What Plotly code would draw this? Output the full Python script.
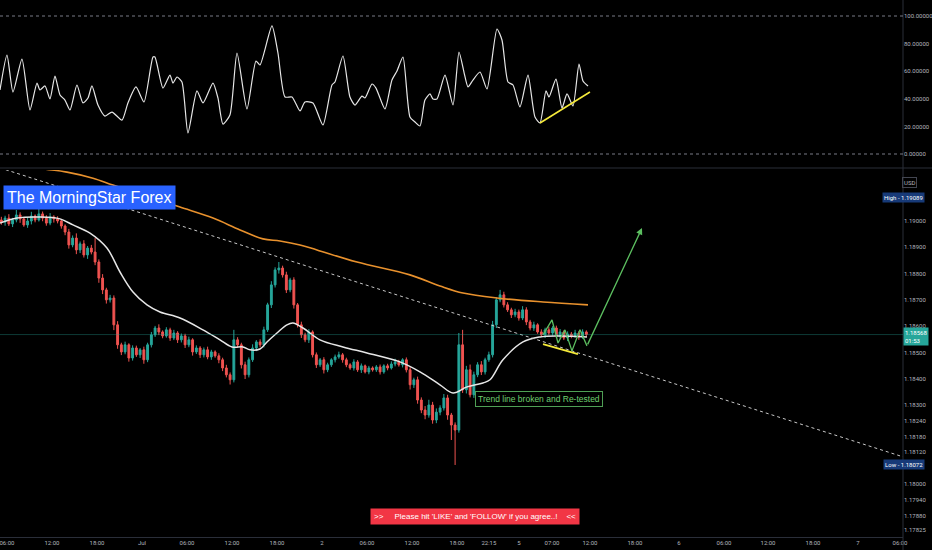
import plotly.graph_objects as go

# EURUSD 30-min bars, prices in points (0.00001) above 1.18000.
# Time is in trading hours from 1 Jul 00:00 (weekend gap removed).
BAR_START, BAR_STEP = -18.75, 0.5
FIRST_OPEN = 1004
CLOSE = [
    996, 1011, 989, 1004, 1023, 1008, 985, 1000, 1019, 1004, 1027, 1011, 992, 1015, 1008, 1000,
    981, 958, 909, 935, 890, 913, 871, 897, 882, 844, 783, 738, 700, 707, 605, 529,
    502, 529, 479, 517, 491, 510, 472, 529, 567, 593, 578,
    563, 586, 555, 574, 548, 563, 529, 548, 502,
    517, 491, 510, 483, 502, 487, 472, 441, 415, 396, 548, 529, 453, 415,
    472, 517, 540, 529, 586, 681, 757, 814, 821, 795, 738, 776, 681, 605, 567,
    548, 578, 491, 453, 472, 434, 453, 472, 483, 491, 472,
    453, 441, 464, 434, 449, 426, 441, 434, 445, 426, 449, 441, 456,
    464, 453, 472, 434, 377, 396, 319, 281, 262, 300, 243, 273, 289, 327, 262,
    224, 205, 529, 358, 434, 339, 415, 453, 426, 472, 491, 605, 700, 719, 681,
    662, 643, 654, 631, 662, 616, 593, 605, 578,
    567, 586, 574, 593, 563, 578, 555, 570, 563, 574, 559, 578, 568,
]
UP_WICK = [
    12, 9, 15, 8, 19, 10, 7, 14, 16, 6, 62, 9, 11, 15, 7, 10,
    8, 6, 12, 10, 18, 9, 14, 8, 12, 53, 10, 15, 8, 12, 10, 14,
    8, 12, 6, 10, 9, 7, 12, 8, 11, 8, 14,
    6, 10, 8, 12, 7, 9, 8, 12, 6,
    10, 7, 9, 12, 8, 6, 10, 8, 12, 9, 38, 10, 8, 12,
    9, 14, 7, 10, 12, 8, 14, 10, 23, 9, 12, 8, 10, 7, 12,
    8, 11, 6, 9, 7, 10, 8, 6, 9, 12, 7,
    8, 6, 10, 7, 9, 5, 8, 6, 7, 9, 6, 8, 10,
    12, 8, 6, 9, 10, 8, 12, 10, 15, 20, 12, 14, 10, 15, 12,
    8, 10, 45, 57, 15, 20, 12, 10, 14, 8, 12, 15, 10, 19, 12,
    10, 8, 12, 9, 14, 10, 8, 12, 6,
    10, 8, 12, 7, 9, 11, 6, 10, 8, 12, 7, 10, 6,
]
DN_WICK = [
    10, 14, 8, 12, 9, 15, 7, 11, 13, 9, 6, 12, 10, 8, 14, 9,
    10, 12, 14, 9, 16, 12, 10, 15, 9, 12, 18, 16, 14, 10, 20, 15,
    12, 9, 14, 10, 8, 12, 15, 9, 10, 8, 12,
    9, 7, 11, 8, 12, 10, 12, 9, 14,
    8, 12, 10, 9, 11, 7, 13, 12, 10, 18, 10, 12, 14, 16,
    10, 8, 12, 9, 10, 8, 12, 10, 14, 10, 12, 9, 14, 10, 12,
    9, 12, 10, 12, 8, 14, 9, 8, 10, 7, 11,
    9, 7, 10, 8, 12, 6, 9, 7, 8, 10, 7, 9, 6,
    9, 7, 10, 10, 18, 12, 14, 12, 16, 10, 14, 12, 12, 10, 18,
    57, 133, 10, 12, 14, 10, 12, 9, 12, 10, 8, 10, 12, 9, 10,
    8, 12, 9, 10, 8, 12, 9, 11, 7,
    8, 12, 9, 10, 7, 10, 8, 12, 9, 8, 11, 7, 10,
]

# moving averages (hours, points)
MA_FAST_T = [-18.93, -16.67, -13.6, -10.93, -9.2, -6.93, -4.67, -2.93, -1.2, 0.67, 2.4, 5.07,
             8.13, 10.4, 12.0, 13.47, 14.4, 15.73, 16.67, 18.0, 19.33, 20.13, 21.47, 23.73,
             26.8, 30.0, 34.4, 37.07, 39.73, 41.47, 43.33, 45.47, 46.4, 48.13, 50.8, 53.07,
             55.33, 59.33]
MA_FAST_P = [992, 1011, 1015, 1008, 985, 954, 897, 806, 730, 681, 654, 631,
             586, 548, 521, 521, 510, 513, 540, 574, 605, 612, 593, 548,
             521, 498, 464, 426, 377, 346, 369, 384, 396, 472, 540, 559,
             563, 559]
MA_SLOW_T = [-18.93, -14.0, -10.0, -6.53, -3.87, 1.07, 5.07, 9.47, 13.07, 16.13, 18.4, 21.07,
             23.33, 28.67, 35.73, 39.73, 42.8, 47.33, 53.47, 59.47]
MA_SLOW_P = [1232, 1202, 1186, 1163, 1137, 1091, 1053, 1011, 966, 932, 924, 909,
             890, 844, 795, 753, 726, 707, 692, 681]

# oscillator pane
RSI_T = [-18.93, -18.0, -17.2, -16.0, -14.93, -14.0, -13.6, -12.93, -12.27, -11.6, -10.93, -10.27,
         -9.6, -8.67, -7.87, -7.2, -6.67, -5.87, -4.93, -4.0, -2.67, -1.87, -0.8, 0.27,
         1.47, 1.73, 2.8, 3.73, 4.13, 4.67, 5.33, 6.13, 7.33, 8.13, 9.47, 10.13,
         10.8, 11.73, 12.67, 14.0, 15.2, 15.73, 17.33, 18.13, 19.07, 20.0, 21.07, 21.73,
         22.8, 24.13, 25.33, 25.73, 26.8, 27.73, 28.4, 29.33, 29.73, 30.67, 31.2, 32.4,
         33.33, 34.0, 34.8, 35.73, 36.4, 37.07, 37.73, 38.4, 38.8, 39.33, 40.4, 41.47,
         42.27, 42.93, 43.47, 44.13, 45.07, 46.0, 47.33, 48.0, 48.8, 49.47, 50.4, 51.47,
         52.4, 53.07, 53.87, 54.27, 55.2, 56.0, 56.67, 57.47, 58.27, 58.8, 59.47]
RSI_V = [46.4, 71.7, 44.9, 68.8, 31.9, 51.4, 46.4, 49.3, 39.9, 56.5, 42.8, 39.1,
         31.9, 50.0, 37.0, 40.6, 49.3, 35.5, 27.5, 30.4, 24.6, 37.0, 48.6, 37.7,
         70.3, 70.3, 47.8, 57.2, 51.4, 55.8, 52.2, 15.2, 45.7, 37.0, 51.4, 40.6,
         21.7, 28.3, 73.2, 32.6, 67.4, 64.5, 92.8, 73.2, 41.3, 41.3, 31.2, 37.7,
         37.0, 21.0, 50.0, 52.2, 71.0, 41.3, 35.5, 42.0, 40.6, 50.7, 47.8, 32.6,
         53.6, 60.1, 70.3, 26.8, 23.2, 20.3, 39.1, 43.5, 39.9, 39.9, 57.2, 35.5,
         73.9, 59.4, 48.6, 53.6, 59.4, 47.1, 90.6, 82.6, 52.2, 50.0, 34.1, 57.2,
         26.8, 22.5, 45.7, 41.3, 54.3, 33.3, 43.5, 34.8, 65.2, 52.9, 49.3]

# drawings
TREND_T, TREND_P = [-18.93, 101.47], [1202, 103]
SUPPORT_T, SUPPORT_P = [53.47, 58.13], [532, 494]
RSI_SUP_T, RSI_SUP_V = [53.07, 59.73], [22.5, 44.9]
ZIGZAG_T = [53.47, 54.67, 55.47, 56.4, 57.33, 58.4, 59.33]
ZIGZAG_P = [567, 624, 536, 586, 506, 586, 525]
TARGET_T, TARGET_P = 66.67, 973

TIME_TICKS = [-18, -12, -6, 0, 6, 12, 18, 24, 30, 36, 42, 46.25, 50.27, 54.67, 59.73,
              65.73, 71.6, 77.6, 83.47, 89.47, 95.47, 101.07]
TIME_LABELS = ["06:00", "12:00", "18:00", "Jul", "06:00", "12:00", "18:00", "2", "06:00",
               "12:00", "18:00", "22:15", "5", "07:00", "12:00", "18:00", "6", "06:00",
               "12:00", "18:00", "7", "06:00"]
PRICE_TICKS = [1000, 900, 800, 700, 600, 500, 400, 300, 240, 180, 120, 0, -60, -120, -175]
RSI_TICKS = [0, 20, 40, 60, 80, 100]
LAST_PRICE, HIGH_PRICE, LOW_PRICE = 568, 1089, 72

BG = "#000000"
AXIS_TXT = "#b2b5be"
GREEN, RED = "#26a69a", "#ef5350"
X_END = 903 / 932


def px(p):
    return round(1.18 + p / 100000, 5)


times = [BAR_START + BAR_STEP * i for i in range(len(CLOSE))]
opens = [FIRST_OPEN] + CLOSE[:-1]
highs = [max(o, c) + w for o, c, w in zip(opens, CLOSE, UP_WICK)]
lows = [min(o, c) - w for o, c, w in zip(opens, CLOSE, DN_WICK)]

fig = go.Figure()
fig.add_trace(go.Candlestick(
    x=times, open=[px(v) for v in opens], high=[px(v) for v in highs],
    low=[px(v) for v in lows], close=[px(v) for v in CLOSE],
    increasing=dict(line=dict(color=GREEN, width=1), fillcolor=GREEN),
    decreasing=dict(line=dict(color=RED, width=1), fillcolor=RED),
    whiskerwidth=0, hoverinfo="skip", xaxis="x", yaxis="y",
))
fig.add_trace(go.Scatter(x=MA_SLOW_T, y=[px(v) for v in MA_SLOW_P], mode="lines",
                         line=dict(color="#e8912d", width=1.6, shape="spline"), xaxis="x", yaxis="y"))
fig.add_trace(go.Scatter(x=MA_FAST_T, y=[px(v) for v in MA_FAST_P], mode="lines",
                         line=dict(color="#e6e6e6", width=1.5, shape="spline"), xaxis="x", yaxis="y"))
fig.add_trace(go.Scatter(x=TREND_T, y=[px(v) for v in TREND_P], mode="lines",
                         line=dict(color="#c8c8c8", width=1, dash="dot"), xaxis="x", yaxis="y"))
fig.add_trace(go.Scatter(x=SUPPORT_T, y=[px(v) for v in SUPPORT_P], mode="lines",
                         line=dict(color="#f5ea3a", width=1.8), xaxis="x", yaxis="y"))
fig.add_trace(go.Scatter(x=ZIGZAG_T, y=[px(v) for v in ZIGZAG_P], mode="lines",
                         line=dict(color="#5cbf60", width=1.3), xaxis="x", yaxis="y"))
fig.add_trace(go.Scatter(x=RSI_T, y=RSI_V, mode="lines",
                         line=dict(color="#e6e6e6", width=1.2, shape="spline", smoothing=0.6),
                         xaxis="x2", yaxis="y2"))
fig.add_trace(go.Scatter(x=RSI_SUP_T, y=RSI_SUP_V, mode="lines",
                         line=dict(color="#f5ea3a", width=1.6), xaxis="x2", yaxis="y2"))

axis_font = dict(size=6, color=AXIS_TXT)
fig.update_layout(
    width=932, height=550, margin=dict(l=0, r=0, t=0, b=0, autoexpand=False),
    paper_bgcolor=BG, plot_bgcolor=BG, showlegend=False,
    font=dict(family="Roboto, sans-serif", color=AXIS_TXT),
    xaxis=dict(domain=[0, X_END], range=[-18.93, 101.47], anchor="y",
               tickvals=TIME_TICKS, ticktext=TIME_LABELS, tickfont=axis_font,
               ticklabeloverflow="allow",
               showgrid=False, zeroline=False, showline=True, linecolor="#2a2e39",
               ticks="", rangeslider=dict(visible=False)),
    xaxis2=dict(domain=[0, X_END], matches="x", anchor="y2", showticklabels=False,
                showgrid=False, zeroline=False),
    yaxis=dict(domain=[1 - 537 / 550, 1 - 170 / 550], range=[px(-202), px(1194)],
               side="right", anchor="x", tickvals=[px(v) for v in PRICE_TICKS],
               ticktext=[f"{px(v):.5f}" for v in PRICE_TICKS], tickfont=axis_font,
               showgrid=False, zeroline=False, ticks=""),
    yaxis2=dict(domain=[1 - 166 / 550, 1], range=[-8.7, 111.6], side="right", anchor="x2",
                tickvals=RSI_TICKS, ticktext=[f"{v:.5f}" for v in RSI_TICKS], tickfont=axis_font,
                showgrid=False, zeroline=False, ticks=""),
)

shapes = [
    dict(type="line", xref="paper", yref="paper", x0=X_END, x1=X_END, y0=0, y1=1,
         line=dict(color="#2a2e39", width=1)),
    dict(type="line", xref="paper", yref="paper", x0=0, x1=1, y0=1 - 168 / 550, y1=1 - 168 / 550,
         line=dict(color="#2a2e39", width=1)),
    dict(type="line", xref="paper", yref="y", x0=0, x1=X_END, y0=px(LAST_PRICE), y1=px(LAST_PRICE),
         line=dict(color="rgba(38,166,154,0.35)", width=1)),
]
for lvl in (0, 100):
    shapes.append(dict(type="line", xref="paper", yref="y2", x0=0, x1=X_END, y0=lvl, y1=lvl,
                       line=dict(color="#787b86", width=1, dash="dot")))
fig.update_layout(shapes=shapes)

fig.add_annotation(x=TARGET_T, y=px(TARGET_P), ax=ZIGZAG_T[-1], ay=px(ZIGZAG_P[-1]),
                   xref="x", yref="y", axref="x", ayref="y", text="", showarrow=True,
                   arrowhead=2, arrowsize=1, arrowwidth=1.3, arrowcolor="#5cbf60")
fig.add_annotation(x=3 / 932, y=1 - 185 / 550, xref="paper", yref="paper",
                   xanchor="left", yanchor="top", text="The MorningStar Forex", showarrow=False,
                   font=dict(family="Liberation Sans, Arial", size=16, color="white"),
                   bgcolor="#2962ff", borderpad=3)
fig.add_annotation(x=52.93, y=px(323), xref="x", yref="y", text="Trend line broken and Re-tested",
                   showarrow=False, font=dict(family="Liberation Sans, Arial", size=8.5, color="#6fcf6f"),
                   bgcolor=BG, bordercolor="#4f9f55", borderwidth=1, borderpad=2)
fig.add_annotation(x=475.5 / 932, y=1 - 525 / 550, xref="paper", yref="paper",
                   text=">>\u00a0\u00a0\u00a0\u00a0 Please hit 'LIKE' and 'FOLLOW' if you agree..!\u00a0\u00a0\u00a0 <<",
                   showarrow=False, font=dict(family="Liberation Sans, Arial", size=8, color="white"),
                   bgcolor="#f23645", borderpad=3)
fig.add_annotation(x=925 / 932, y=px(HIGH_PRICE), xref="paper", yref="y", xanchor="right",
                   text=f"High - {px(HIGH_PRICE):.5f}", showarrow=False,
                   font=dict(size=6, color="white"), bgcolor="#173a78", borderpad=1)
fig.add_annotation(x=925 / 932, y=px(LOW_PRICE), xref="paper", yref="y", xanchor="right",
                   text=f"Low - {px(LOW_PRICE):.5f}", showarrow=False,
                   font=dict(size=6, color="white"), bgcolor="#173a78", borderpad=1)
fig.add_annotation(x=X_END, y=px(LAST_PRICE), xref="paper", yref="y", xanchor="left", yshift=-2,
                   text=f"{px(LAST_PRICE):.5f}<br>01:53", showarrow=False, align="left",
                   font=dict(size=6, color="white"), bgcolor=GREEN, borderpad=1)
fig.add_annotation(x=917 / 932, y=1 - 177 / 550, xref="paper", yref="paper", text="USD",
                   showarrow=False, font=dict(size=6, color=AXIS_TXT),
                   bordercolor="#434651", borderwidth=1, borderpad=1)

fig.write_html("out.html", config={"displayModeBar": False},
               post_script="document.body.style.margin='0';")
